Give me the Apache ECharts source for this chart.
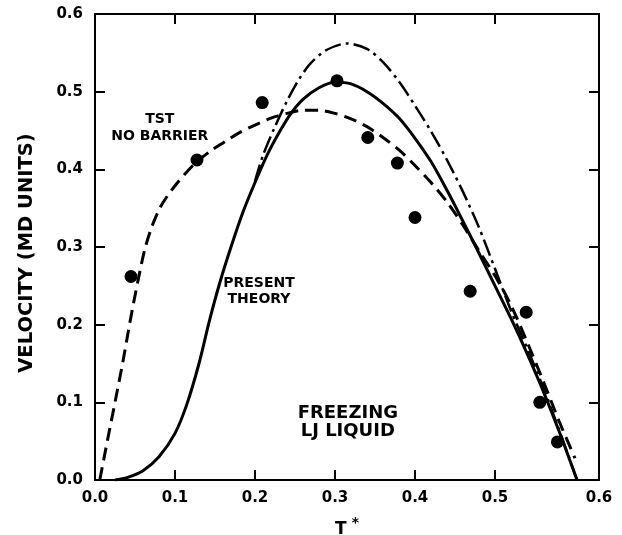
<!DOCTYPE html>
<html>
<head>
<meta charset="utf-8">
<script src="https://cdn.jsdelivr.net/npm/echarts@6/dist/echarts.min.js"></script>
<style>
html,body{margin:0;padding:0;background:#fff;}
#c{width:622px;height:535px;}
</style>
</head>
<body>
<div id="c"></div>
<script>
// ---- data (T*, velocity in MD units) ----
var mdPoints = [
  [0.045, 0.262], [0.1275, 0.412], [0.209, 0.486], [0.3025, 0.514],
  [0.341, 0.441], [0.378, 0.408], [0.400, 0.338], [0.469, 0.243],
  [0.539, 0.216], [0.556, 0.100], [0.578, 0.049]
];
var presentTheory = [
  [0.025, 0.000], [0.04, 0.003], [0.06, 0.012], [0.08, 0.030], [0.10, 0.060],
  [0.115, 0.098], [0.13, 0.150], [0.143, 0.205], [0.156, 0.254], [0.17, 0.300],
  [0.185, 0.345], [0.20, 0.383], [0.215, 0.418], [0.23, 0.447], [0.245, 0.472],
  [0.26, 0.490], [0.28, 0.505], [0.30, 0.512], [0.32, 0.510], [0.34, 0.500],
  [0.36, 0.485], [0.38, 0.466], [0.40, 0.440], [0.42, 0.410], [0.44, 0.373],
  [0.46, 0.333], [0.48, 0.292], [0.50, 0.250], [0.52, 0.208], [0.54, 0.163],
  [0.56, 0.115], [0.58, 0.063], [0.6025, 0.000]
];
var tstNoBarrier = [
  [0.006, 0.000], [0.015, 0.048], [0.025, 0.100], [0.035, 0.153], [0.044, 0.205],
  [0.054, 0.258], [0.0625, 0.298], [0.071, 0.326], [0.081, 0.350], [0.09, 0.365],
  [0.1025, 0.382], [0.115, 0.397], [0.1275, 0.410], [0.145, 0.424], [0.16, 0.434],
  [0.18, 0.447], [0.20, 0.457], [0.22, 0.466], [0.24, 0.472], [0.26, 0.476],
  [0.28, 0.476], [0.30, 0.472], [0.32, 0.465], [0.34, 0.455], [0.36, 0.441],
  [0.38, 0.425], [0.40, 0.405], [0.42, 0.383], [0.44, 0.358], [0.46, 0.328],
  [0.48, 0.295], [0.50, 0.263], [0.52, 0.225], [0.54, 0.178], [0.56, 0.128],
  [0.58, 0.076], [0.60, 0.028]
];
var dashDotCurve = [
  [0.20, 0.385], [0.21, 0.418], [0.225, 0.455], [0.24, 0.488], [0.255, 0.516],
  [0.27, 0.537], [0.29, 0.554], [0.315, 0.562], [0.34, 0.555], [0.36, 0.538],
  [0.38, 0.513], [0.40, 0.482], [0.42, 0.449], [0.44, 0.412], [0.46, 0.371],
  [0.48, 0.325], [0.50, 0.272], [0.52, 0.218], [0.54, 0.170], [0.56, 0.120],
  [0.58, 0.065], [0.6025, 0.000]
];
var xTickValues = [0.1, 0.2, 0.3, 0.4, 0.5];
var xLabelValues = [0, 0.1, 0.2, 0.3, 0.4, 0.5, 0.63];
var xLabelTexts = ['0.0', '0.1', '0.2', '0.3', '0.4', '0.5', '0.6'];
var yTickLabels = ['0.0', '0.1', '0.2', '0.3', '0.4', '0.5', '0.6'];
var annotations = [
  { t: 0.081, v: 0.454, text: 'TST\nNO BARRIER', size: 14, lh: 17 },
  { t: 0.205, v: 0.243, text: 'PRESENT\nTHEORY', size: 14, lh: 16 },
  { t: 0.316, v: 0.0747, text: 'FREEZING\nLJ LIQUID', size: 18, lh: 18 }
];

var FONT = 'DejaVu Sans';
var chart = echarts.init(document.getElementById('c'), null, { renderer: 'canvas' });

function xLabelFmt(v) {
  for (var i = 0; i < xLabelValues.length; i++) {
    if (Math.abs(xLabelValues[i] - v) < 1e-6) return xLabelTexts[i];
  }
  return '';
}
function yLabelFmt(v) {
  return yTickLabels[Math.round(v * 10)] || '';
}
function blankFmt() { return ''; }

var axisLineStyle = { color: '#000', width: 2 };
var tickStyle = { color: '#000', width: 2 };

var option = {
  backgroundColor: '#fff',
  animation: false,
  grid: { left: 95, right: 23, top: 14, bottom: 55, containLabel: false, outerBoundsMode: 'none' },
  xAxis: [
    {
      type: 'value', min: 0, max: 0.63, position: 'bottom',
      axisLine: { show: true, onZero: false, lineStyle: axisLineStyle },
      axisTick: { show: true, inside: true, length: 10, lineStyle: tickStyle, customValues: xTickValues },
      axisLabel: {
        show: true, customValues: xLabelValues, formatter: xLabelFmt, margin: 11,
        color: '#000', fontFamily: FONT, fontWeight: 'bold', fontSize: 15
      },
      splitLine: { show: false },
      name: '{t|T}{s|*}', nameLocation: 'middle', nameGap: 36,
      nameTextStyle: {
        rich: {
          t: { fontFamily: FONT, fontWeight: 'bold', fontSize: 17, color: '#000', lineHeight: 22, verticalAlign: 'bottom' },
          s: { fontFamily: FONT, fontWeight: 'bold', fontSize: 14, color: '#000', padding: [0, 0, 6, 5], verticalAlign: 'top' }
        }
      }
    },
    {
      type: 'value', min: 0, max: 0.63, position: 'top', show: true,
      axisLine: { show: true, onZero: false, lineStyle: axisLineStyle },
      axisTick: { show: true, inside: true, length: 10, lineStyle: tickStyle, customValues: xTickValues },
      axisLabel: { show: true, formatter: blankFmt, customValues: xTickValues },
      splitLine: { show: false }
    }
  ],
  yAxis: [
    {
      type: 'value', min: 0, max: 0.6, interval: 0.1, position: 'left',
      axisLine: { show: true, onZero: false, lineStyle: axisLineStyle },
      axisTick: { show: true, inside: true, length: 10, lineStyle: tickStyle },
      axisLabel: {
        formatter: yLabelFmt, margin: 12, color: '#000',
        fontFamily: FONT, fontWeight: 'bold', fontSize: 15
      },
      splitLine: { show: false },
      name: 'VELOCITY (MD UNITS)', nameLocation: 'middle', nameGap: 58, nameRotate: 90,
      nameTextStyle: { fontFamily: FONT, fontWeight: 'bold', fontSize: 19.5, color: '#000', padding: [0, 12, 0, 0] }
    },
    {
      type: 'value', min: 0, max: 0.6, interval: 0.1, position: 'right', show: true,
      axisLine: { show: true, onZero: false, lineStyle: axisLineStyle },
      axisTick: { show: true, inside: true, length: 10, lineStyle: tickStyle },
      axisLabel: { show: true, formatter: blankFmt },
      splitLine: { show: false }
    }
  ],
  series: [
    {
      name: 'Present theory', type: 'line', data: presentTheory, smooth: 0.3,
      symbol: 'none', lineStyle: { color: '#000', width: 3 }, z: 3
    },
    {
      name: 'TST no barrier', type: 'line', data: tstNoBarrier, smooth: 0.3,
      symbol: 'none', lineStyle: { color: '#000', width: 3, type: [13, 7] }, z: 3
    },
    {
      name: 'Dash-dot', type: 'line', data: dashDotCurve, smooth: 0.3,
      symbol: 'none', lineStyle: { color: '#000', width: 2.5, type: [17, 5, 3, 5] }, z: 3
    },
    {
      name: 'MD', type: 'scatter', data: mdPoints, symbol: 'circle', symbolSize: 13,
      itemStyle: { color: '#000', opacity: 1 }, z: 4
    },
    {
      name: 'labels', type: 'scatter', symbolSize: 0, silent: true, z: 5,
      xAxisIndex: 1, yAxisIndex: 1,
      itemStyle: { opacity: 1 },
      data: annotations.map(function (a) {
        return {
          value: [a.t, a.v],
          label: {
            show: true, position: 'inside', formatter: a.text,
            fontFamily: FONT, fontWeight: 'bold', fontSize: a.size,
            lineHeight: a.lh, color: '#000', align: 'center', verticalAlign: 'middle'
          }
        };
      })
    }
  ]
};
chart.setOption(option);
</script>
</body>
</html>
